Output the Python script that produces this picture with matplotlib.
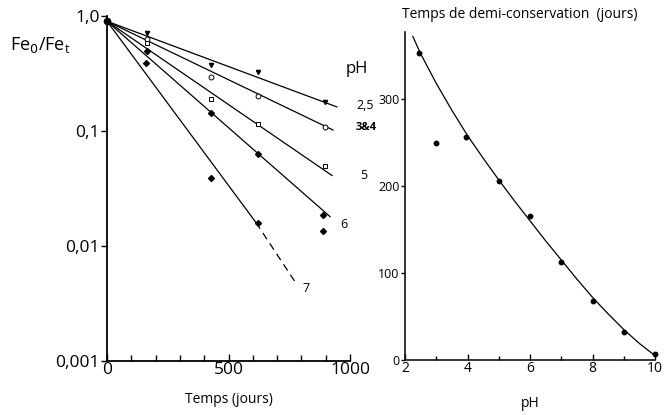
import matplotlib
matplotlib.use("Agg")
import matplotlib.pyplot as plt
from matplotlib.ticker import FixedLocator, NullLocator, NullFormatter

plt.rcParams['font.family'] = ['Open Sans', 'DejaVu Sans']

# ---- left panel data: Fe0/Fet versus time (days) ----
t_pts = [165, 428, 621, 897]
ph25_vals = [0.71, 0.375, 0.326, 0.18]
ph34_vals = [0.63, 0.295, 0.20, 0.108]
ph5_vals = [0.58, 0.19, 0.115, 0.05]
ph6_t = [165, 428, 621, 889, 889]
ph6_vals = [0.50, 0.143, 0.063, 0.0186, 0.0135]
ph7_t = [160, 428, 621]
ph7_vals = [0.39, 0.039, 0.016]
origin_t = [0]
origin_val = [0.9]

# fitted lines (start, end)
line_t = {'2,5': [0, 946], '3&4': [0, 930], '5': [0, 926], '6': [0, 918], '7': [0, 613]}
line_v = {'2,5': [0.9, 0.162], '3&4': [0.9, 0.102], '5': [0.9, 0.041], '6': [0.9, 0.018], '7': [0.9, 0.016]}
ph7_dash_t = [613, 782]
ph7_dash_v = [0.016, 0.0046]

# ---- right panel data: half-conservation time versus pH ----
ph_pts = [2.45, 3.0, 3.95, 5.0, 6.0, 7.0, 8.0, 9.0, 10.0]
half_pts = [353, 249, 256, 206, 166, 113, 68, 32, 7]
curve_ph = [2.25, 2.5, 3, 3.5, 4, 4.5, 5, 5.5, 6, 6.5, 7, 7.5, 8, 8.5, 9, 9.5, 10]
curve_half = [372, 352, 318, 287, 258, 232, 207, 183, 160, 137, 115, 93, 72, 53, 35, 19, 5]

fig = plt.figure(figsize=(6.65, 4.15), dpi=100)

# ---------------- left axes ----------------
ax1 = fig.add_axes([107/665, 1-361/415, 243/665, 345/415])
ax1.set_yscale('log')
ax1.set_xlim(0, 1000)
ax1.set_ylim(0.001, 1.0)
for s in ['top', 'right']:
    ax1.spines[s].set_visible(False)
for s in ['left', 'bottom']:
    ax1.spines[s].set_linewidth(1.3)

for k in line_t:
    ax1.plot(line_t[k], line_v[k], color='black', lw=0.9, clip_on=False)
ax1.plot(ph7_dash_t, ph7_dash_v, color='black', lw=0.9, dashes=(6, 4), clip_on=False)

ax1.plot(t_pts, ph25_vals, linestyle='none', marker='v', ms=3, color='black', clip_on=False)
ax1.plot(t_pts, ph34_vals, linestyle='none', marker='o', ms=3.5, mfc='white', mec='black', mew=0.7, clip_on=False)
ax1.plot(t_pts, ph5_vals, linestyle='none', marker='s', ms=3, mfc='white', mec='black', mew=0.7, clip_on=False)
ax1.plot(ph6_t, ph6_vals, linestyle='none', marker='D', ms=3, color='black', clip_on=False)
ax1.plot(ph7_t, ph7_vals, linestyle='none', marker='D', ms=3, color='black', clip_on=False)
ax1.plot(origin_t, origin_val, linestyle='none', marker='o', ms=4.5, color='black', clip_on=False)

ax1.yaxis.set_major_locator(FixedLocator([0.001, 0.01, 0.1, 1.0]))
ax1.yaxis.set_minor_locator(NullLocator())
ax1.yaxis.set_minor_formatter(NullFormatter())
ax1.set_yticklabels(['0,001', '0,01', '0,1', '1,0'])
ax1.xaxis.set_major_locator(FixedLocator([0, 500, 1000]))
ax1.xaxis.set_minor_locator(FixedLocator([100, 200, 300, 400, 600, 700, 800, 900]))
ax1.tick_params(axis='y', direction='out', length=4, width=1, labelsize=12.5, pad=1)
ax1.tick_params(axis='x', which='major', direction='in', length=5, width=1, labelsize=12.5, pad=1)
ax1.tick_params(axis='x', which='minor', direction='in', length=4, width=1)
ax1.set_xlabel('Temps (jours)', fontsize=10, labelpad=10)

fig.text(10/665, 1-45/415, r'Fe$_0$/Fe$_\mathregular{t}$', fontsize=13, va='center', ha='left')

# pH labels
lbl_kw = dict(fontsize=9, color='black', ha='left', va='center')
fig.text(346/665, 1-69/415, 'pH', fontsize=12, ha='left', va='center')
fig.text(356/665, 1-105/415, '2,5', **lbl_kw)
fig.text(356/665, 1-128/415, '3&4', fontsize=8, ha='left', va='center', weight='bold')
fig.text(360/665, 1-175/415, '5', **lbl_kw)
fig.text(340/665, 1-224/415, '6', **lbl_kw)
fig.text(302/665, 1-288/415, '7', **lbl_kw)

# ---------------- right axes ----------------
ax2 = fig.add_axes([405/665, 1-360/415, 250/665, 328/415])
ax2.set_xlim(2, 10)
ax2.set_ylim(0, 377)
for s in ['top', 'right']:
    ax2.spines[s].set_visible(False)
for s in ['left', 'bottom']:
    ax2.spines[s].set_linewidth(1.1)
ax2.plot(curve_ph, curve_half, color='black', lw=0.9, clip_on=False)
ax2.plot(ph_pts, half_pts, linestyle='none', marker='o', ms=3.2, color='black', clip_on=False)
ax2.xaxis.set_major_locator(FixedLocator([2, 4, 6, 8, 10]))
ax2.xaxis.set_minor_locator(FixedLocator([3, 5, 7, 9]))
ax2.yaxis.set_major_locator(FixedLocator([0, 100, 200, 300]))
ax2.tick_params(axis='y', direction='out', length=3, width=1, labelsize=9, pad=1)
ax2.tick_params(axis='x', which='major', direction='in', length=4, width=1, labelsize=10, pad=1)
ax2.tick_params(axis='x', which='minor', direction='in', length=3, width=1)
ax2.set_xlabel('pH', fontsize=10, labelpad=14)
fig.text(520/665, 1-15/415, 'Temps de demi-conservation  (jours)', fontsize=10, ha='center', va='center')

fig.savefig('out.png', dpi=100)
